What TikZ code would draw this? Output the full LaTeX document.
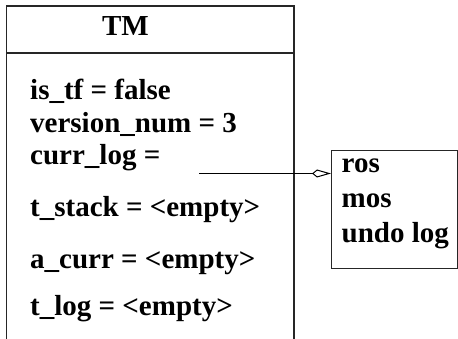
\documentclass[tikz,border=0pt]{standalone}
\usepackage{fontspec}
\setmainfont{Liberation Serif}
\usetikzlibrary{arrows.meta}
\begin{document}
\begin{tikzpicture}[x=1pt,y=-1pt]
	\tikzset{f/.style={anchor=base west,inner sep=0pt,font=\fontsize{29}{35}\selectfont\bfseries},
	frame/.style={line width=1.1pt,draw=black!85}}
	\useasboundingbox(0,0)rectangle(458,339);
	% class box, open at the bottom
	\draw[frame](6.5,339)--(6.5,6)--(294,6)--(294,339);
	\draw[frame](6.5,53)--(294,53);
	\node[f,anchor=base](TM)at(125.5,36){TM};
	\path(30,100)node[f](istf){is\_tf = false}
	(30,133)node[f](vnum){version\_num = 3}
	(30,165)node[f](clog){curr\_log =}
	(30,217)node[f](tstack){t\_stack = <empty>}
	(30,269)node[f](acurr){a\_curr = <empty>}
	(30,316)node[f](tlog){t\_log = <empty>};
	% log box
	\node[frame,draw,rectangle,minimum width=126pt,minimum height=118pt,inner sep=0pt,anchor=north west](log)at(331,150){};
	\path(341.5,173)node[f](ros){ros}
	(341.5,208)node[f](mos){mos}
	(341.5,243)node[f](undo){undo log};
	\coordinate(c)at(199,173.5);
	\draw[line width=1pt,-{Kite[open,length=19pt,width=8pt,inset=5pt]}](c)--(c-|log.west);
\end{tikzpicture}
\end{document}
